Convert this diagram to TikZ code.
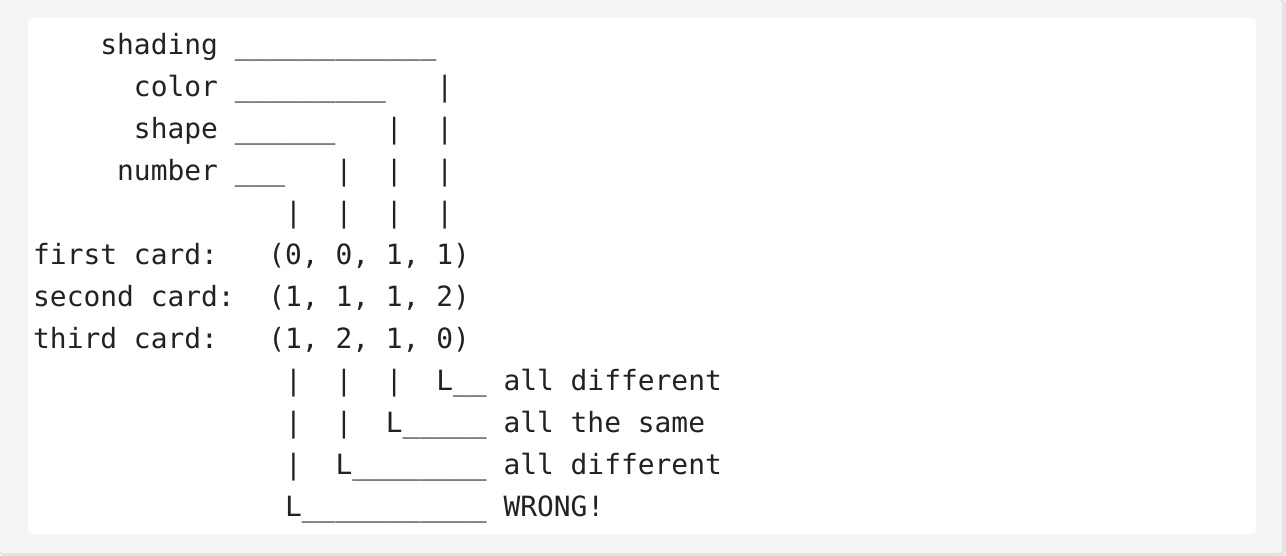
\documentclass[tikz,border=0pt]{standalone}
\usepackage{fontspec}
\newfontfamily\codefont{DejaVu Sans Mono}
\definecolor{panelgray}{HTML}{F5F5F5}
\definecolor{paneledge}{HTML}{E4E4E4}
\definecolor{inkgray}{HTML}{222222}
\begin{document}
\begin{tikzpicture}[x=1pt,y=-1pt,
  row/.style={anchor=base west, inner sep=0pt, text=inkgray, font=\codefont\fontsize{27.9}{42}\selectfont}]
  \useasboundingbox (0,0) rectangle (1286,556);
  % panel and code box
  \fill[paneledge, rounded corners=3pt] (0,0) rectangle (1286,556);
  \fill[panelgray, rounded corners=3pt] (0,0) rectangle (1282,553);
  \fill[white, rounded corners=4pt] (28,18) rectangle (1256,534);
  % attribute labels
  \node[row] (shading) at (33,54.5) {~~~~shading~\_\_\_\_\_\_\_\_\_\_\_\_};
  \node[row] (color) at (33,96.5) {~~~~~~color~\_\_\_\_\_\_\_\_\_~~~|};
  \node[row] (shape) at (33,138.5) {~~~~~~shape~\_\_\_\_\_\_~~~|~~|};
  \node[row] (number) at (33,180.5) {~~~~~number~\_\_\_~~~|~~|~~|};
  \node[row] (bars) at (33,222.5) {~~~~~~~~~~~~~~~|~~|~~|~~|};
  % the three cards
  \node[row] (first) at (33,264.5) {first~card:~~~(0,~0,~1,~1)};
  \node[row] (second) at (33,306.5) {second~card:~~(1,~1,~1,~2)};
  \node[row] (third) at (33,348.5) {third~card:~~~(1,~2,~1,~0)};
  % verdicts
  \node[row] (diffA) at (33,390.5) {~~~~~~~~~~~~~~~|~~|~~|~~L\_\_~all~different};
  \node[row] (same) at (33,432.5) {~~~~~~~~~~~~~~~|~~|~~L\_\_\_\_\_~all~the~same};
  \node[row] (diffB) at (33,474.5) {~~~~~~~~~~~~~~~|~~L\_\_\_\_\_\_\_\_~all~different};
  \node[row] (wrong) at (33,516.5) {~~~~~~~~~~~~~~~L\_\_\_\_\_\_\_\_\_\_\_~WRONG!};
\end{tikzpicture}
\end{document}
